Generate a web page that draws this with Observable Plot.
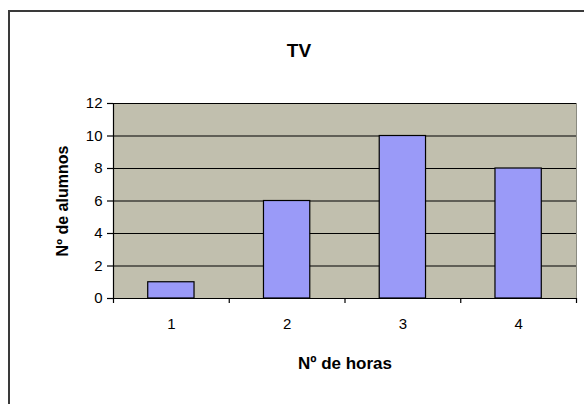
<!DOCTYPE html>
<html>
<head>
<meta charset="utf-8">
<script src="https://cdn.jsdelivr.net/npm/d3@7"></script>
<script src="https://cdn.jsdelivr.net/npm/@observablehq/plot@0.6"></script>
<style>
  html, body { margin: 0; padding: 0; background: #fff; overflow: hidden; width: 584px; height: 404px; }
  #wrap { position: relative; width: 584px; height: 404px; overflow: hidden; }
  #wrap svg { position: absolute; left: 0; top: 0; display: block; }
  #border { position: absolute; left: 8px; top: 10px; width: 600px; height: 420px; border: 2px solid #3a3a3a; box-sizing: border-box; pointer-events: none; }
</style>
</head>
<body>
<div id="wrap"><div id="border"></div></div>
<script>
const hours = [1, 2, 3, 4];
const students = [1, 6, 10, 8];
const yTicks = [0, 2, 4, 6, 8, 10, 12];
const xBounds = [0.5, 1.5, 2.5, 3.5, 4.5];
const title = "TV";
const xLabel = "Nº de horas";
const yLabel = "Nº de alumnos";

const data = hours.map((h, i) => ({h, n: students[i]}));
const barHalf = 0.2;

const chart = Plot.plot({
  width: 584,
  height: 404,
  marginLeft: 113,
  marginRight: 8,
  marginTop: 103,
  marginBottom: 106,
  style: {fontFamily: "'Liberation Sans', Arial, sans-serif", fontSize: "15px", color: "#000", background: "transparent"},
  x: {type: "linear", domain: [0.5, 4.5], axis: null, label: null},
  y: {domain: [0, 12], axis: null, label: null},
  marks: [
    Plot.frame({fill: "#c1bfae", stroke: "#8a8a80"}),
    Plot.ruleY(yTicks, {stroke: "#000", strokeWidth: 1.2}),
    Plot.rectY(data, {x1: d => d.h - barHalf, x2: d => d.h + barHalf, y: "n", fill: "#9a9af8", stroke: "#000", strokeWidth: 1.2}),
    Plot.ruleY([0], {stroke: "#000", strokeWidth: 1.2}),
    Plot.ruleX([0.5], {stroke: "#000", strokeWidth: 1.2}),
    Plot.axisY({ticks: yTicks, label: null, tickFormat: d => String(d), tickSize: 6, tickPadding: 5, fontSize: 15, stroke: "#000", strokeWidth: 1.2}),
    Plot.axisX({ticks: xBounds, label: null, tickSize: 5, tickFormat: () => "", stroke: "#000", strokeWidth: 1.2}),
    Plot.axisX({ticks: hours, label: null, tickFormat: d => String(d), tickSize: 0, tickPadding: 20, fontSize: 15}),
    Plot.text([title], {frameAnchor: "top", dx: -46, dy: -60, fontSize: 19, fontWeight: "bold"}),
    Plot.text([xLabel], {frameAnchor: "bottom", dy: 70, fontSize: 17, fontWeight: "bold", letterSpacing: "0.6px"}),
    Plot.text([yLabel], {frameAnchor: "left", textAnchor: "middle", dx: -51, rotate: -90, fontSize: 16, fontWeight: "bold", letterSpacing: "0.5px"})
  ]
});
document.getElementById("wrap").prepend(chart);
</script>
</body>
</html>
